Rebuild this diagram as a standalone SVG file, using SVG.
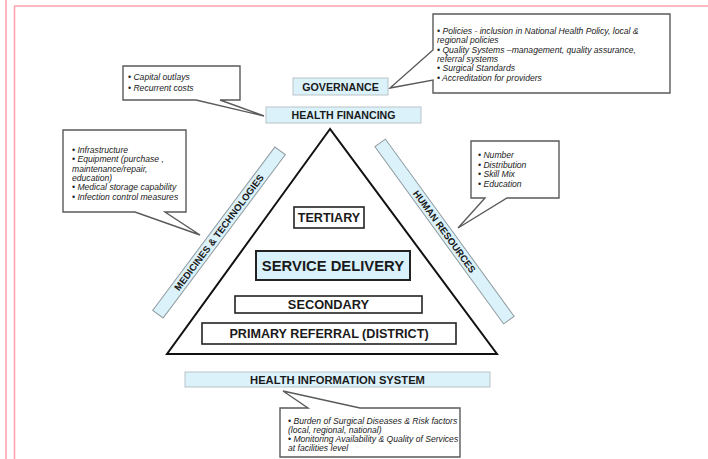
<svg xmlns="http://www.w3.org/2000/svg" width="708" height="459" viewBox="0 0 708 459">
<defs>
<style>
.pink{stroke:#ffa3ad;stroke-width:1.6;fill:none}
.callout{fill:#ffffff;stroke:#5a5a5a;stroke-width:1.4;stroke-linejoin:miter}
.blue{fill:#dcf2fa;stroke:#b9c3c8;stroke-width:1}
.bar{fill:#dcf2fa;stroke:#8f9ba0;stroke-width:1}
.lvl{fill:#ffffff;stroke:#222;stroke-width:1.6}
.sd{fill:#d9f1fa;stroke:#222;stroke-width:2}
.lab{font-family:"Liberation Sans",Arial,sans-serif;font-weight:bold;fill:#1a1a1a;text-anchor:middle}
.note{font-family:"Liberation Sans",Arial,sans-serif;font-style:italic;font-size:8.6px;fill:#222}
</style>
</defs>
<rect x="0" y="0" width="708" height="459" fill="#ffffff"/>
<g id="frame">
<line class="pink" x1="6" y1="0" x2="6" y2="459"/>
<line class="pink" x1="14.5" y1="6" x2="14.5" y2="459"/>
<line class="pink" x1="14" y1="6" x2="708" y2="6"/>
</g>
<g id="triangle">
<polygon points="330,129 167,354 497,354" fill="none" stroke="#111" stroke-width="2" stroke-linejoin="miter"/>
</g>
<g id="connectors">
<path class="callout" d="M123,66 H240 V100 H220 L264,116 L196,100 H123 Z"/>
<path class="callout" d="M433,14 H670 V93 H433 V80 L390,88 L433,50 Z"/>
<path class="callout" d="M63,130 H186 V212 H165 L200,235 L135,212 H63 Z"/>
<path class="callout" d="M471,141 H559 V198 H507 L458,228 L485,198 H471 Z"/>
<path class="callout" d="M280,408 H308 L283,391 L360,408 H460 V457 H280 Z"/>
</g>
<g id="capital-note">
<text class="note" x="128" y="80">• Capital outlays</text>
<text class="note" x="128" y="91">• Recurrent costs</text>
</g>
<g id="governance-note">
<text class="note" x="437" y="34">• Policies - inclusion in National Health Policy, local &amp;</text>
<text class="note" x="437" y="43.3">regional policies</text>
<text class="note" x="437" y="52.6">• Quality Systems –management, quality assurance,</text>
<text class="note" x="437" y="61.9">referral systems</text>
<text class="note" x="437" y="71.2">• Surgical Standards</text>
<text class="note" x="437" y="80.5">• Accreditation for providers</text>
</g>
<g id="medicines-note">
<text class="note" x="72" y="153">• Infrastructure</text>
<text class="note" x="72" y="162.3">• Equipment  (purchase ,</text>
<text class="note" x="72" y="171.6">maintenance/repair,</text>
<text class="note" x="72" y="180.9">education)</text>
<text class="note" x="72" y="190.2">• Medical storage capability</text>
<text class="note" x="72" y="199.5">• Infection control measures</text>
</g>
<g id="hr-note">
<text class="note" x="478" y="158">• Number</text>
<text class="note" x="478" y="167.5">• Distribution</text>
<text class="note" x="478" y="177">• Skill Mix</text>
<text class="note" x="478" y="186.5">• Education</text>
</g>
<g id="his-note">
<text class="note" x="288" y="424">• Burden of Surgical Diseases &amp; Risk factors</text>
<text class="note" x="288" y="433">(local, regional, national)</text>
<text class="note" x="288" y="442">• Monitoring Availability &amp; Quality of Services</text>
<text class="note" x="288" y="451">at facilities level</text>
</g>
<g id="governance">
<rect class="blue" x="293" y="78" width="95" height="17"/>
<text class="lab" x="340.5" y="90.8" font-size="10.7">GOVERNANCE</text>
</g>
<g id="health-financing">
<rect class="blue" x="266" y="107" width="155" height="16"/>
<text class="lab" x="343.5" y="119" font-size="10.6">HEALTH FINANCING</text>
</g>
<g id="medicines-technologies">
<g transform="translate(219,232.5) rotate(-53.2)">
<rect class="bar" x="-102" y="-6.5" width="204" height="13"/>
<text class="lab" x="0" y="3.4" font-size="9.6">MEDICINES &amp; TECHNOLOGIES</text>
</g>
</g>
<g id="human-resources">
<g transform="translate(444.5,231.5) rotate(54)">
<rect class="bar" x="-109.5" y="-6.5" width="219" height="13"/>
<text class="lab" x="0" y="3.4" font-size="9.6">HUMAN RESOURCES</text>
</g>
</g>
<g id="tertiary">
<rect class="lvl" x="294" y="207" width="70" height="21"/>
<text class="lab" x="329" y="222.3" font-size="12.6">TERTIARY</text>
</g>
<g id="service-delivery">
<rect class="sd" x="256" y="251" width="154" height="29"/>
<text class="lab" x="333" y="271.2" font-size="14.8">SERVICE DELIVERY</text>
</g>
<g id="secondary">
<rect class="lvl" x="235" y="296" width="187" height="17"/>
<text class="lab" x="328.5" y="309" font-size="12.8">SECONDARY</text>
</g>
<g id="primary-referral">
<rect class="lvl" x="202" y="323" width="254" height="21"/>
<text class="lab" x="329" y="338.2" font-size="12.6">PRIMARY REFERRAL  (DISTRICT)</text>
</g>
<g id="health-information-system">
<rect class="blue" x="185" y="372" width="305" height="15"/>
<text class="lab" x="337.5" y="383.6" font-size="11.2">HEALTH INFORMATION SYSTEM</text>
</g>
</svg>
